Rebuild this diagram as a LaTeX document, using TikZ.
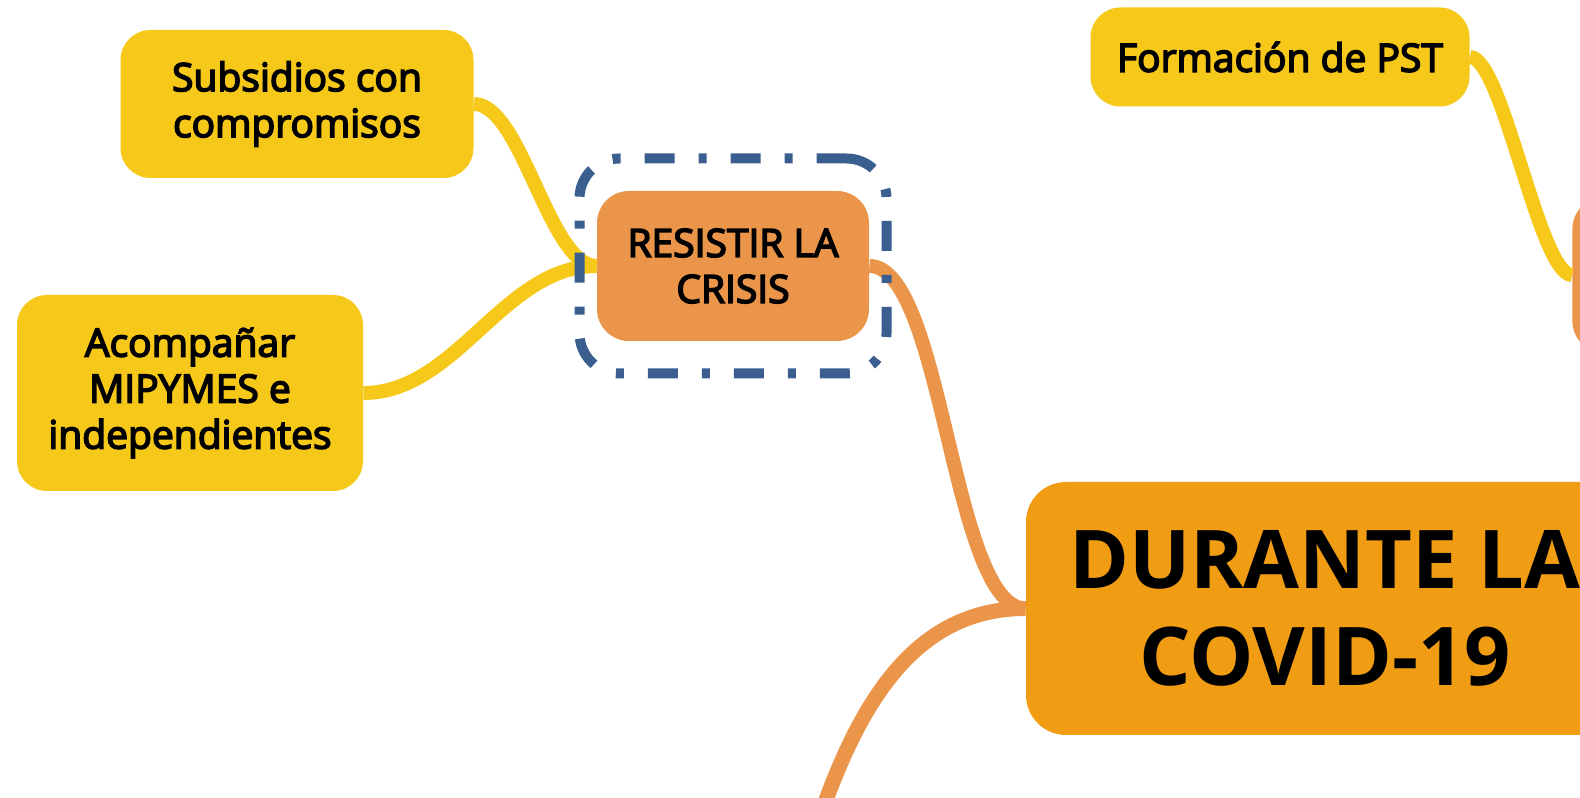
\documentclass[tikz,border=0pt]{standalone}
\usepackage{fontspec}
\setmainfont{Open Sans}
\newfontfamily\semifont{Open Sans}[FakeBold=4]
\usetikzlibrary{positioning}
\definecolor{ideayellow}{HTML}{F5C819}
\definecolor{topicorange}{HTML}{EA954A}
\definecolor{coreorange}{HTML}{F09D14}
\definecolor{selblue}{HTML}{3A5F8F}

\begin{document}
\begin{tikzpicture}[x=0.5pt,y=0.5pt,
  idea/.style={rectangle,rounded corners=15pt,fill=ideayellow,align=center,inner sep=0,font=\semifont\fontsize{19.5}{23}\selectfont},
  topic/.style={rectangle,rounded corners=16pt,fill=topicorange,align=center,inner sep=0,font=\semifont\fontsize{19.5}{23}\selectfont},
  core/.style={rectangle,rounded corners=20pt,fill=coreorange,align=center,inner sep=0,font=\bfseries\fontsize{40.5}{48.5}\selectfont},
  selbox/.style={rectangle,draw=selblue,line width=5pt,rounded corners=20pt,dash pattern=on 15pt off 12pt on 4pt off 12pt},
  yline/.style={draw=ideayellow,line width=7pt},
  oline/.style={draw=topicorange,line width=7pt}]

\useasboundingbox (0,0) rectangle (1580,798);

% Nodes
\node[core,minimum width=299pt,minimum height=126.5pt] (covid) at (1325,189.5) {DURANTE LA\\COVID-19};
\node[topic,minimum width=136pt,minimum height=75pt] (resist) at (733,532) {RESISTIR LA\\CRISIS};
\node[idea,minimum width=176.5pt,minimum height=74pt] (sub) at (297,694) {Subsidios con\\compromisos};
\node[idea,minimum width=173pt,minimum height=98pt] (acomp) at (190,405) {Acompañar\\MIPYMES e\\independientes};
\node[idea,minimum width=189.5pt,minimum height=49.5pt] (pst) at (1280,741) {Formación de PST};
\node[topic,minimum width=150pt,minimum height=78pt,anchor=west] (next) at (1572,523) {};
\coordinate (down) at (823,-10);

%arcs
\path (sub) edge[yline,out=0,in=180,looseness=0.6] (resist);
\path (acomp) edge[yline,out=0,in=180,looseness=0.9] (resist);
\path (pst) edge[yline,out=0,in=180,looseness=0.35] (next);
\path (resist) edge[oline,out=0,in=180,looseness=0.5] (covid);
\path (covid.west) edge[oline,line width=7.5pt,out=180,in=70] (down);

% selection
\node[selbox,minimum width=153.5pt,minimum height=107.5pt] (sel) at (resist) {};

\end{tikzpicture}
\end{document}
